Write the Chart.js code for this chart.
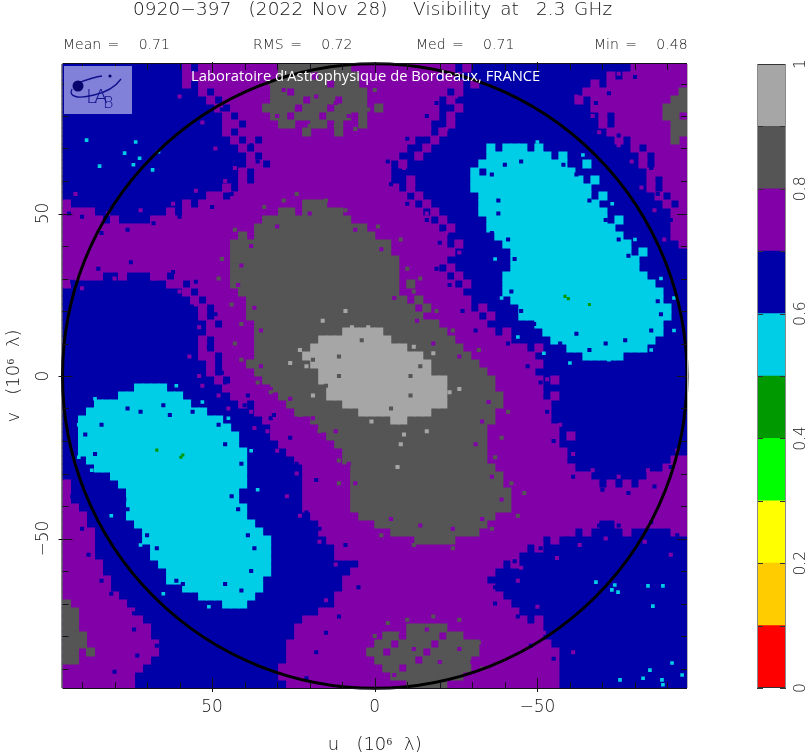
<!DOCTYPE html>
<html>
<head>
<meta charset="utf-8">
<script src="https://cdn.jsdelivr.net/npm/chart.js@4"></script>
<style>
  html, body { margin: 0; background: #fff; }
  #page { position: relative; width: 810px; height: 756px; overflow: hidden; font-family: "DejaVu Sans"; font-weight: 200; color: #111; }
  canvas { position: absolute; top: 0; }
  .txt { position: absolute; white-space: pre; line-height: 1; }
  .stat { top: 37px; font-size: 14px; word-spacing: 2px; }
  #title { left: 133px; top: 0; font-size: 18.4px; word-spacing: 2.5px; letter-spacing: .15px; }
  #lab { left: 191px; top: 65px; font: 14.75px "Open Sans"; color: #fff; }
  #logo { position: absolute; left: 64px; top: 66px; }
</style>
</head>
<body>
<div id="page">
  <canvas id="map" width="810" height="756" style="left:0"></canvas>
  <canvas id="bar" width="110" height="756" style="left:700px"></canvas>
  <div class="txt" id="title">0920−397  (2022 Nov 28)   Visibility at  2.3 GHz</div>
  <div class="txt stat" style="left:63px">Mean =   0.71</div>
  <div class="txt stat" style="left:253px">RMS =   0.72</div>
  <div class="txt stat" style="left:416px">Med =   0.71</div>
  <div class="txt stat" style="left:594px">Min =   0.48</div>
  <svg id="logo" width="68" height="48">
    <rect width="68" height="48" fill="rgba(150,150,225,.86)"/>
    <path d="M8 23 C4 31 14 33 30 29 C44 26 52 20 57 13" fill="none" stroke="#10108c" stroke-width="1.3"/>
    <path d="M14 17 C22 14 30 11 38 10" fill="none" stroke="#10108c" stroke-width="1.3"/>
    <circle cx="14" cy="20" r="5.5" fill="#06066e"/>
    <circle cx="46" cy="10" r="1.6" fill="#06066e"/>
    <text x="22" y="37" font-family="DejaVu Sans" font-size="20" fill="#12128c">L</text>
    <text x="30" y="37" font-family="DejaVu Sans" font-size="20" fill="#12128c">A</text>
    <text x="39" y="42" font-family="DejaVu Sans" font-size="16" fill="#12128c">B</text>
  </svg>
  <div class="txt" id="lab">Laboratoire d'Astrophysique de Bordeaux, FRANCE</div>
</div>

<script>
/* map rows, top to bottom: colour letter + column where that run ends */
const mapRows = [
  "b15p16b17p27d36p49b50p51b71p78",
  "b15p27d31p32d37p49b68p69b70p78",
  "b15p16b17p26d33p34d37p50b51p52b66p67b68p78",
  "b17p18b19p26d28p29d38p48b49p50b65p77d78",
  "b18p19b20p26d30p31d34p35d38p47b48p49b64p65b66p76d78",
  "b19p20b21p25d29p30d33p34d38p39d40p47b49p50b66p75d78",
  "b20p21b22p26d28p29d32p33d36p37d38p47b48p49b67p68b69p75d77p78",
  "b20p22b23p27d29p31d33p34d35p37d38p46b48p49b67p68b69p76d78",
  "b20p21b22p30d31p34d35p46b47p48b68p76d78",
  "b21p22b23p24b25p44b46p47b69p70b71p76d77p78",
  "b22p23b24p43b45p46b53c54b55c58b59c60b71p72b73p78",
  "b23p24b25p42b44p45b53c61b62c63b72p73b74p78",
  "b23p25b26p41b42p43b52c63b65c66b72p73b74p78",
  "b22p23b24p41b51c52b53c64b73p78",
  "b22p23b24p41b43p44b51c65b66c67b73p74b75p78",
  "b20p21b22p42b43p44b51c66b73p74b75p78",
  "b18p20b21p43b44p45b52c66b67c68b74p75b76p78",
  "p1b15p16b17p30d33p44b45p46b52c67b75p76b77p78",
  "p4b13p14b15p27d29p30d35p45b46p47b52c68b76p78",
  "p5b6p7b11p25d36p46b47p48b53c68b69c70b76p78",
  "p24d38p47b48p49b53c69b76p78",
  "p22d23p24d39p48b54c70b76p78",
  "p21d41p48b49p50b55c71b77p78",
  "p21d41p49b56c71b72c73b78",
  "p21d42p48b56c72b78",
  "p21d42p47b48p49b56c72b78",
  "p5b7p8b11p13b14p21d42p48b49p50b55c73b78",
  "p1b13p15b16p21d42p43d44p49b50p51b55c74b78",
  "b15p16b17p22d42p50b55c75b78",
  "b16p17b18p23d43p44d45p51b56c75b78",
  "b17p18b19p23d44p45d46p51b52p53b57c76b78",
  "b17p18b19p23d45p52b53p54b57c76b78",
  "b18p19b20p24d47p53b59c75b78",
  "b18p24d35l40d48p54b55p56b60c75b78",
  "b17p18b19p24d32l41d49p56b61c74b78",
  "b17p18b19p24d31l43d50p58b59p60b63c73b78",
  "b17p19b20p24d30l45d51p59b65c70b78",
  "b18p19b20p23d31l46d52p60b78",
  "b18p19b20p24d32l46d53p59b78",
  "b19p20b21p25d32l48d54p60b61p62b78",
  "b9c13b20p26d33l48d54p60b78",
  "b7c15b21p27d33l48d55p60b61p62b78",
  "b4c16b22p23b24p28d35l48d55p61b78",
  "b3c18b24p29d37l46d54p61b78",
  "b2c20b25p31d41l43d54p61b78",
  "b2c21b26p32d53p62b78",
  "b2c22b26p33d53p62b63p64b78",
  "b2c22b27p34d53p62b78",
  "b2c23b28p35d53p63b78",
  "b3c23b29p35d53p63b76p78",
  "b4c23b30p36d54p64b75p78",
  "b6c23b30p36d55p66b73p78",
  "p1b7c23b30p36d55p67b68p69b70p71b72p78",
  "p1b8c22b30p36d56p78",
  "p1b8c22b30p36d56p78",
  "p2b8c23b30p36d56p78",
  "p3b8c23b31p37d54p78",
  "p3b9c24b32p39d53p67b69p78",
  "p4b10c25b32p41d52p64b65p66b70p71b76p78",
  "p4b10c26b33p44d49p60b61p62b78",
  "p4b11c26b34p58b59p60b78",
  "p4b11c26b34p57b78",
  "p5b12c26b37p55b56p57b78",
  "p5b13c26b36p54b78",
  "p6b13c25b35p53b78",
  "p6b15c25b35p54b78",
  "p7b17c24b34p55b78",
  "d1p8b20c23b34p56b78",
  "d2p9b32p57b78",
  "d2p10b30p58b59p60b78",
  "d2p11b29p43d48p60b78",
  "d3p11b29p40d42p43d47p48d50p60b78",
  "d3p12b28p39d41p42d46p47d52p61b78",
  "d2p3d4p12b28p38d40p41d45p46d52p62b78",
  "d2p11b28p39d44p45d51p62b78",
  "p10b27p40d42p43d51p62b78",
  "p9b27p41d50p62b78",
  "p9b28p43d48p62b78",
];
const levelColours = { c: "#00cde6", b: "#0000a8", p: "#8200a8", d: "#555555", l: "#a6a6a6" };

/* small isolated cells along the noisy edges, [u, v] */
const blueSpecks = [
  [-36,62],[-40,65],[-45,66],[-38,54],[-38,50],[-36,44],[-41,42],[-43,36],[-42,26],[-45,20],[-49,16],[-57,10],[-62,13],
  [-66,8],[-71,10],[-77,11],[-85,14],[-88,19],[-87,23],[-83,33],[-78,37],[-75,42],[-71,48],[-66,54],[-62,62],[-58,65],
  [38,-60],[41,-66],[46,-64],[37,-53],[39,-49],[35,-45],[42,-41],[44,-37],[41,-27],[46,-21],[48,-15],[56,-11],[63,-12],
  [65,-9],[72,-11],[76,-10],[84,-15],[89,-18],[86,-24],[84,-32],[77,-38],[76,-41],[70,-49],[67,-53],[61,-63],[59,-64],
  [56,88],[47,82],[43,75],[38,71],[36,66],[38,60],[44,56],[50,52],[60,49],[68,47],[76,45],[84,44],[90,49],[94,50],
  [-55,-87],[-48,-83],[-44,-74],[-37,-70],[-37,-65],[-39,-61],[-43,-57],[-51,-53],[-59,-50],[-69,-46],[-75,-46],[-85,-45],[-89,-48],[-93,-49],
  [-80,92],[-72,87],[-68,84],[-73,79],[-75,74],[-80,68],[-85,64],[-87,56],[-91,48],[-94,38],
  [80,-91],[73,-86],[67,-83],[74,-78],[74,-73],[81,-67],[84,-63],[88,-55],[90,-47],[93,-37],
  [-20,92],[-19,84],[-16,80],[-10,73],[-4,66],[-5,59],[-10,53],[-16,48],[-20,41],[-19,33],[-23,28],[-27,20],[-31,14],[-41,10],[-47,3],
  [21,-93],[18,-85],[15,-79],[11,-74],[5,-65],[6,-58],[9,-52],[17,-47],[21,-42],[18,-32],[24,-27],[26,-19],[32,-13],[40,-9],[46,-2],
  [93,29],[85,33],[75,35],[62,32],[55,29],[49,19],[51,9],[47,1],[39,-6],[31,-12],
  [-51,-2],[-53,-11],[-55,-20],[-61,-31],[-70,-35],[-78,-36],[-86,-34],[-91,-28],
];
const purpleSpecks = [
  [60,86],[53,78],[49,70],[43,64],[46,60],[55,57],[62,53],[72,51],[82,50],[92,56],
  [-61,-85],[-52,-79],[-50,-71],[-44,-63],[-45,-59],[-56,-56],[-63,-52],[-71,-50],[-83,-51],[-91,-55],
  [-75,93],[-67,88],[-62,86],[-67,80],[-69,75],[-75,71],[-79,66],[-82,58],[-86,51],[-89,42],
  [-26,93],[-25,86],[-22,76],[-16,70],[-9,64],[-11,57],[-16,50],[-22,44],[-26,38],[-25,31],[-29,24],[-32,16],[-37,10],[-47,5],[-53,-1],
  [25,-92],[26,-85],[23,-77],[15,-69],[8,-63],[12,-58],[17,-51],[23,-43],[27,-37],[24,-30],[30,-23],[33,-17],[38,-11],[48,-6],[54,0],
  [90,27],[80,30],[68,30],[60,26],[55,22],[54,15],[57,6],[53,-3],[45,-10],[37,-16],
  [-56,-6],[-57,-15],[-61,-24],[-67,-29],[-75,-31],[-84,-29],[-93,-23],
  [20,50],[30,46],[38,40],[42,28],[35,14],[35,3],[26,-7],[12,-17],[6,-33],[-5,-44],[-24,-47],[-39,-38],[-36,-31],[-31,-21],[-35,-8],
  [-26,6],[-13,17],[-6,24],[-2,39],[6,45],[41,34],[37,21],[32,-4],[19,-13],[8,-27],[-14,-46],[-33,-44],[-33,-14],[-18,10],
  [28,88],[24,82],[18,86],[12,84],[8,80],[30,80],[-6,-92],[-12,-84],[-20,-88],[-26,-84],[-16,-78],[-30,-88],[-8,-80],
];
const greySpecks = [
  [24,56],[34,52],[43,45],[48,30],[41,16],[41,5],[32,-5],[17,-17],[11,-33],[-2,-49],[-24,-53],[-44,-43],[-42,-33],[-37,-25],[-41,-11],
  [-32,8],[-19,20],[-12,26],[-8,42],[9,51],[28,54],[15,54],[47,36],[44,22],[43,10],[36,-2],[23,-12],[11,-26],[3,-42],[-12,-52],
  [-36,-47],[-46,-36],[-39,-19],[-36,-3],[-24,14],[-14,30],[-10,33],[-1,46],
  [32,90],[30,84],[26,78],[20,77],[12,77],[6,76],[2,82],[0,88],
  [0,-80],[-4,-76],[-10,-75],[-18,-74],[-26,-75],[-32,-82],[-33,-90],[-2,-87],
  [11,0],[-11,0],[-11,-6],[4,11],[-14,3],[15,-3],[-5,-10],[11,6],[19,5],
];
const lightSpecks = [
  [16,17],[19,-6],[26,4],[23,8],[21,3],[-21,-2],[-23,-5],[-21,-8],[-16,-17],[-9,-18],[-8,-21],[-18,7],[-12,9],[2,15],[7,15],[9,20],[-26,-4],[1,-14],[-7,-28],
];
const cyanSpecks = [
  [-34,58],[-33,50],[-37,36],[-40,30],[-39,24],[-44,12],[-52,7],[-60,4],[-72,5],[-85,8],[-92,14],[-92,24],[-88,30],[-80,42],[-73,53],[-64,68],[-50,72],[-44,70],
  [33,-57],[34,-51],[36,-35],[41,-31],[38,-23],[45,-13],[53,-8],[61,-3],[71,-6],[86,-7],[91,-15],[91,-25],[87,-29],[81,-43],[72,-52],[65,-67],[51,-71],[43,-69],
  [88.6,72.6],[73.5,72],[76.9,68.6],[66.5,69],[84.6,64.6],[74.2,65],[72.3,67],[68.3,63.4],
  [-68,-63.4],[-73.8,-64.3],[-72.9,-65.8],[-74.8,-66.5],[-84,-64.6],[-85.5,-70.8],[-88.6,-64.6],
  [-84.6,-90.5],[-91.4,-88.3],[-88.3,-93.5],[-82.5,-93],[-75.4,-93.5],[-94.5,-92],[-88.6,-95],
];
const greenSpecks = [[59,-24.3],[59.6,-25],[67,-22.8],[-58.5,24.5],[-59.5,23.8],[-66,22]];
const circleCentre = [{ x: 0, y: 0 }];
const circleRadius = 96;

const axisMin = -96;
const axisMax = 96;
const uvLabels = [50, 0, -50];

const barColours = ["#ff0000", "#ffcc00", "#ffff00", "#00ff00", "#009900", "#00cde6", "#0000a8", "#8200a8", "#555555", "#a6a6a6"];
const barStep = [0.1];
const barLabels = [0, 0.2, 0.4, 0.6, 0.8, 1];

const textFont = { family: "DejaVu Sans", size: 17, weight: "200" };

/* turn the rows into one point list per colour */
function cellsFor(letter) {
  const out = [];
  const size = (axisMax - axisMin) / mapRows.length;
  mapRows.forEach((row, r) => {
    let from = 0;
    for (const m of row.matchAll(/([a-z])(\d+)/g)) {
      const to = +m[2];
      if (m[1] === letter) {
        for (let c = from; c < to; c++) {
          out.push({ x: axisMax - (c + 0.5) * size, y: axisMax - (r + 0.5) * size });
        }
      }
      from = to;
    }
  });
  return out;
}

function tickLine(ctx, x1, y1, x2, y2) {
  ctx.beginPath();
  ctx.moveTo(x1, y1);
  ctx.lineTo(x2, y2);
  ctx.stroke();
}

/* PGPLOT style frame with inward ticks */
const frame = {
  id: "frame",
  afterDatasetsDraw(chart) {
    const { ctx, chartArea: a, scales } = chart;
    ctx.save();
    ctx.lineWidth = 1;
    ctx.strokeStyle = "#14101e";
    scales.x.ticks.forEach((t) => {
      const px = Math.round(scales.x.getPixelForValue(t.value)) + 0.5;
      const major = uvLabels.includes(t.value);
      tickLine(ctx, px, a.bottom + (major ? 4 : 0), px, a.bottom - (major ? 10 : 6));
      tickLine(ctx, px, a.top - (major ? 2 : 0), px, a.top + (major ? 10 : 6));
    });
    scales.y.ticks.forEach((t) => {
      const py = Math.round(scales.y.getPixelForValue(t.value)) + 0.5;
      const major = uvLabels.includes(t.value);
      tickLine(ctx, a.left - (major ? 4 : 0), py, a.left + (major ? 10 : 6), py);
      tickLine(ctx, a.right, py, a.right - (major ? 10 : 6), py);
    });
    tickLine(ctx, a.left, a.top - 0.5, a.right, a.top - 0.5);
    tickLine(ctx, a.left, a.bottom + 0.5, a.right, a.bottom + 0.5);
    tickLine(ctx, a.left - 0.5, a.top, a.left - 0.5, a.bottom);
    ctx.strokeStyle = "#b5b5b5";
    tickLine(ctx, a.right + 0.5, a.top, a.right + 0.5, a.bottom);
    ctx.restore();
  },
};

const barFrame = {
  id: "barFrame",
  afterDatasetsDraw(chart) {
    const { ctx, chartArea: a, scales } = chart;
    ctx.save();
    ctx.lineWidth = 1;
    ctx.strokeStyle = "#333";
    scales.y.ticks.forEach((t) => {
      const py = Math.round(scales.y.getPixelForValue(t.value)) + 0.5;
      tickLine(ctx, a.left, py, a.left + 6, py);
      tickLine(ctx, a.right, py, a.right - 6, py);
    });
    tickLine(ctx, a.left, a.top + 0.5, a.right, a.top + 0.5);
    tickLine(ctx, a.left, a.bottom - 0.5, a.right, a.bottom - 0.5);
    ctx.strokeStyle = "#8a8a8a";
    tickLine(ctx, a.left + 0.5, a.top, a.left + 0.5, a.bottom);
    tickLine(ctx, a.right - 0.5, a.top, a.right - 0.5, a.bottom);
    ctx.restore();
  },
};

function cellSet(letter) {
  return {
    data: cellsFor(letter),
    pointStyle: "rect",
    pointRadius: 6.4,
    pointBorderWidth: 0,
    borderWidth: 0,
    backgroundColor: levelColours[letter],
    showLine: false,
  };
}
function speckSet(pairs, colour, radius) {
  return {
    data: pairs.map(([x, y]) => ({ x, y })),
    pointStyle: "rect",
    pointRadius: radius,
    pointBorderWidth: 0,
    borderWidth: 0,
    backgroundColor: colour,
    showLine: false,
  };
}

new Chart(document.getElementById("map"), {
  type: "scatter",
  plugins: [frame],
  data: {
    datasets: [
      {
        data: circleCentre,
        clip: false,
        pointRadius: (c) => {
          const x = c.chart.scales.x;
          return Math.abs(x.getPixelForValue(circleRadius) - x.getPixelForValue(0));
        },
        backgroundColor: "transparent",
        borderColor: "#000",
        borderWidth: 3,
        pointBorderWidth: 3,
        pointBorderColor: "#000",
      },
      speckSet(greenSpecks, "#009900", 2.2),
      speckSet(lightSpecks, levelColours.l, 2.9),
      speckSet(cyanSpecks, levelColours.c, 2.6),
      speckSet(greySpecks, levelColours.d, 2.9),
      speckSet(blueSpecks, levelColours.b, 2.9),
      speckSet(purpleSpecks, levelColours.p, 2.9),
      cellSet("l"),
      cellSet("c"),
      cellSet("d"),
      cellSet("p"),
      cellSet("b"),
    ],
  },
  options: {
    responsive: false,
    animation: false,
    events: [],
    layout: { padding: { top: 64, right: 123, left: 0, bottom: 0 } },
    plugins: { legend: { display: false }, tooltip: { enabled: false } },
    scales: {
      x: {
        type: "linear",
        reverse: true,
        min: axisMin,
        max: axisMax,
        afterFit: (s) => { s.height = 68; },
        grid: { display: false, drawTicks: false },
        border: { display: false },
        ticks: {
          stepSize: 10,
          includeBounds: false,
          autoSkip: false,
          maxRotation: 0,
          padding: 9,
          color: "#111",
          font: textFont,
          callback: (v) => (uvLabels.includes(v) ? String(v).replace("-", "−") : ""),
        },
        title: {
          display: true,
          text: "u   (10⁶  λ)",
          color: "#111",
          font: { ...textFont, size: 18 },
          padding: { top: 0, bottom: 0 },
        },
      },
      y: {
        type: "linear",
        min: axisMin,
        max: axisMax,
        afterFit: (s) => { s.width = 62.5; },
        grid: { display: false, drawTicks: false },
        border: { display: false },
        ticks: {
          stepSize: 10,
          includeBounds: false,
          autoSkip: false,
          minRotation: 90,
          maxRotation: 90,
          crossAlign: "center",
          padding: 1,
          color: "#111",
          font: textFont,
          callback: (v) => (uvLabels.includes(v) ? String(v).replace("-", "−") : ""),
        },
        title: {
          display: true,
          text: "v   (10⁶  λ)",
          color: "#111",
          font: { ...textFont, size: 18 },
          padding: { top: 4, bottom: 0 },
        },
      },
    },
  },
});

new Chart(document.getElementById("bar"), {
  type: "bar",
  plugins: [barFrame],
  data: {
    labels: [""],
    datasets: barColours.map((colour) => ({
      data: barStep,
      backgroundColor: colour,
      borderWidth: 0,
      barPercentage: 1,
      categoryPercentage: 1,
    })),
  },
  options: {
    responsive: false,
    animation: false,
    events: [],
    layout: { padding: { top: 64, bottom: 68, left: 57, right: 0 } },
    plugins: { legend: { display: false }, tooltip: { enabled: false } },
    scales: {
      x: { stacked: true, display: false },
      y: {
        stacked: true,
        position: "right",
        min: 0,
        max: 1,
        afterFit: (s) => { s.width = 24; },
        grid: { display: false, drawTicks: false },
        border: { display: false },
        ticks: {
          stepSize: 0.1,
          autoSkip: false,
          minRotation: 90,
          maxRotation: 90,
          crossAlign: "center",
          padding: 3,
          color: "#111",
          font: { ...textFont, size: 15.5 },
          callback: (v) => {
            const r = Math.round(v * 10) / 10;
            return barLabels.includes(r) ? String(r) : "";
          },
        },
      },
    },
  },
});
</script>
</body>
</html>
